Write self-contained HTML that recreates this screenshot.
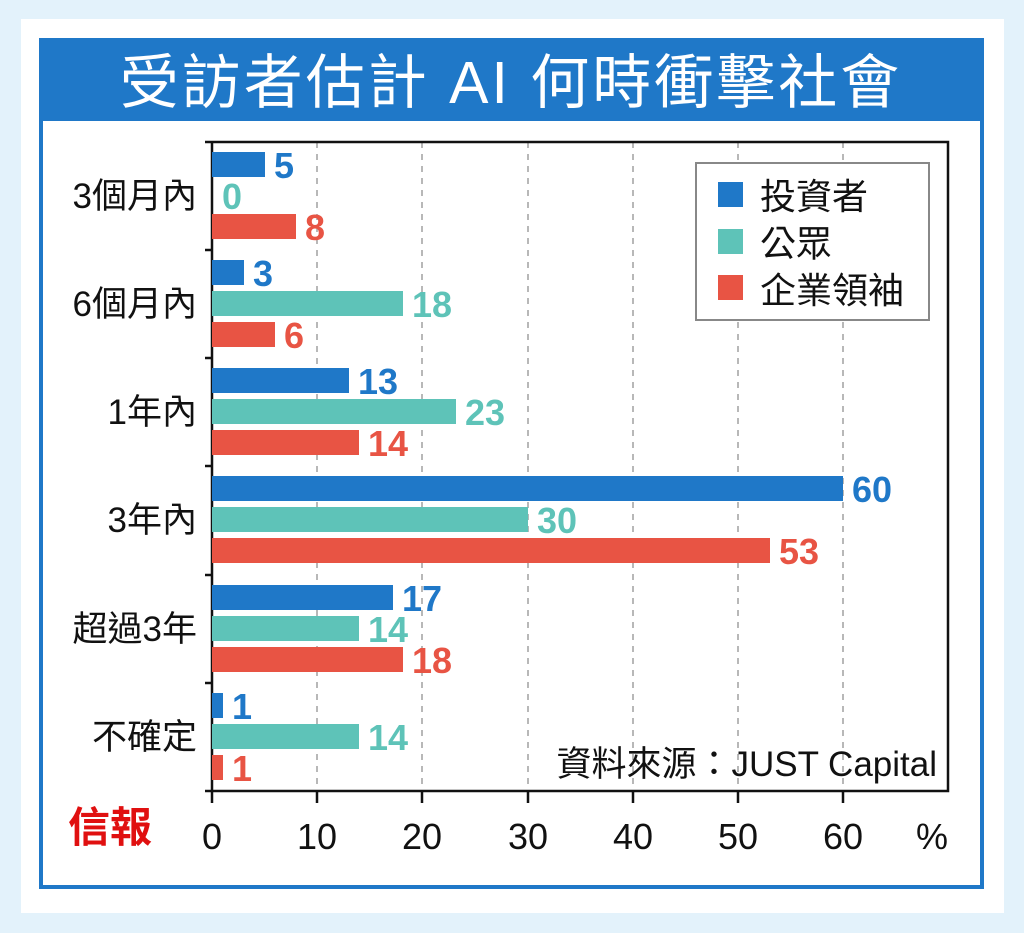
<!DOCTYPE html>
<html><head><meta charset="utf-8"><style>
html,body{margin:0;padding:0;background:#e3f2fb;}
svg{display:block;}
text{font-family:"Liberation Sans","Noto Sans CJK TC",sans-serif;}
</style></head><body>
<svg width="1024" height="933" viewBox="0 0 1024 933" xmlns="http://www.w3.org/2000/svg">
<rect x="0" y="0" width="1024" height="933" fill="#e3f2fb"/>
<rect x="21" y="19" width="983" height="894" fill="#fff"/>
<rect x="41" y="40" width="941" height="847" fill="#fff" stroke="#1f78c8" stroke-width="4"/>
<rect x="39" y="38" width="945" height="83" fill="#1f78c8"/>
<text x="511" y="103" text-anchor="middle" font-size="59" fill="#fff" letter-spacing="3">受訪者估計 AI 何時衝擊社會</text>
<g stroke="#888" stroke-width="1.2" stroke-dasharray="6,6">
<line x1="317" y1="142" x2="317" y2="791"/><line x1="422" y1="142" x2="422" y2="791"/>
<line x1="528" y1="142" x2="528" y2="791"/><line x1="633" y1="142" x2="633" y2="791"/>
<line x1="738" y1="142" x2="738" y2="791"/><line x1="843" y1="142" x2="843" y2="791"/>
</g>
<g stroke="#111" stroke-width="2.5" fill="none">
<polyline points="212,142 948,142 948,791 212,791 212,142"/>
</g>
<g stroke="#111" stroke-width="2.5">
<line x1="205" y1="142" x2="212" y2="142"/><line x1="205" y1="250" x2="212" y2="250"/>
<line x1="205" y1="358" x2="212" y2="358"/><line x1="205" y1="466" x2="212" y2="466"/>
<line x1="205" y1="575" x2="212" y2="575"/><line x1="205" y1="683" x2="212" y2="683"/>
<line x1="205" y1="791" x2="212" y2="791"/>
<line x1="212" y1="791" x2="212" y2="803"/><line x1="317" y1="791" x2="317" y2="803"/>
<line x1="422" y1="791" x2="422" y2="803"/><line x1="528" y1="791" x2="528" y2="803"/>
<line x1="633" y1="791" x2="633" y2="803"/><line x1="738" y1="791" x2="738" y2="803"/>
<line x1="843" y1="791" x2="843" y2="803"/>
</g>
<g font-size="36" fill="#111" text-anchor="middle">
<text x="212" y="849">0</text><text x="317" y="849">10</text><text x="422" y="849">20</text>
<text x="528" y="849">30</text><text x="633" y="849">40</text><text x="738" y="849">50</text>
<text x="843" y="849">60</text><text x="932" y="849">%</text>
</g>
<text x="68" y="842" font-size="42" font-weight="bold" fill="#e01010" font-family="'Noto Serif CJK SC',serif">信報</text>
<g font-size="35" fill="#111" text-anchor="end">
<text x="197" y="208">3個月內</text><text x="197" y="316">6個月內</text>
<text x="197" y="424">1年內</text><text x="197" y="532">3年內</text>
<text x="197" y="641">超過3年</text><text x="197" y="749">不確定</text>
</g>
<g>
<rect x="212" y="152" width="53" height="25" fill="#1f78c8"/>
<rect x="212" y="214" width="84" height="25" fill="#e85444"/>
<rect x="212" y="260" width="32" height="25" fill="#1f78c8"/>
<rect x="212" y="291" width="191" height="25" fill="#5ec3b8"/>
<rect x="212" y="322" width="63" height="25" fill="#e85444"/>
<rect x="212" y="368" width="137" height="25" fill="#1f78c8"/>
<rect x="212" y="399" width="244" height="25" fill="#5ec3b8"/>
<rect x="212" y="430" width="147" height="25" fill="#e85444"/>
<rect x="212" y="476" width="631" height="25" fill="#1f78c8"/>
<rect x="212" y="507" width="316" height="25" fill="#5ec3b8"/>
<rect x="212" y="538" width="558" height="25" fill="#e85444"/>
<rect x="212" y="585" width="181" height="25" fill="#1f78c8"/>
<rect x="212" y="616" width="147" height="25" fill="#5ec3b8"/>
<rect x="212" y="647" width="191" height="25" fill="#e85444"/>
<rect x="212" y="693" width="11" height="25" fill="#1f78c8"/>
<rect x="212" y="724" width="147" height="25" fill="#5ec3b8"/>
<rect x="212" y="755" width="11" height="25" fill="#e85444"/>
</g>
<g font-size="36" font-weight="bold">
<text x="274" y="178" fill="#1f78c8">5</text>
<text x="222" y="209" fill="#5ec3b8">0</text>
<text x="305" y="240" fill="#e85444">8</text>
<text x="253" y="286" fill="#1f78c8">3</text>
<text x="412" y="317" fill="#5ec3b8">18</text>
<text x="284" y="348" fill="#e85444">6</text>
<text x="358" y="394" fill="#1f78c8">13</text>
<text x="465" y="425" fill="#5ec3b8">23</text>
<text x="368" y="456" fill="#e85444">14</text>
<text x="852" y="502" fill="#1f78c8">60</text>
<text x="537" y="533" fill="#5ec3b8">30</text>
<text x="779" y="564" fill="#e85444">53</text>
<text x="402" y="611" fill="#1f78c8">17</text>
<text x="368" y="642" fill="#5ec3b8">14</text>
<text x="412" y="673" fill="#e85444">18</text>
<text x="232" y="719" fill="#1f78c8">1</text>
<text x="368" y="750" fill="#5ec3b8">14</text>
<text x="232" y="781" fill="#e85444">1</text>
</g>
<rect x="696" y="163" width="233" height="157" fill="#fff" stroke="#888" stroke-width="2"/>
<rect x="718" y="182" width="25" height="25" fill="#1f78c8"/>
<rect x="718" y="229" width="25" height="25" fill="#5ec3b8"/>
<rect x="718" y="275" width="25" height="25" fill="#e85444"/>
<g font-size="36" fill="#111">
<text x="760" y="209">投資者</text>
<text x="760" y="256">公眾</text>
<text x="760" y="303">企業領袖</text>
</g>
<text x="937" y="776" font-size="35" fill="#111" text-anchor="end">資料來源：JUST Capital</text>
</svg>
</body></html>
